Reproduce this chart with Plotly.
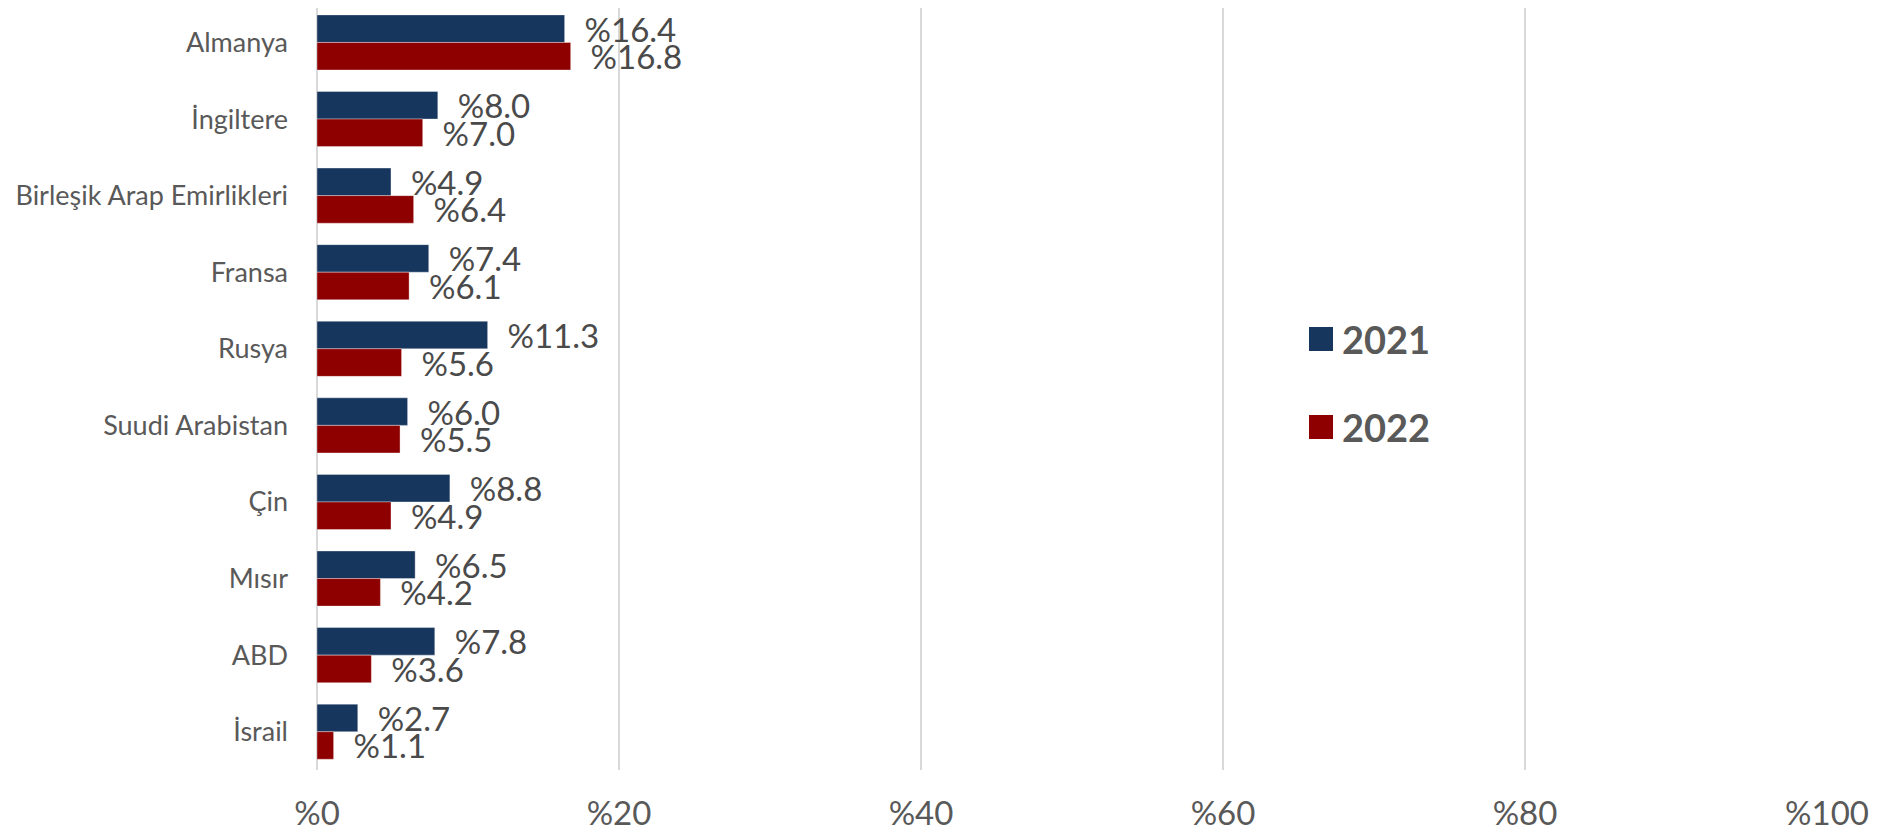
import plotly.graph_objects as go

categories = ["Almanya", "İngiltere", "Birleşik Arap Emirlikleri", "Fransa", "Rusya",
              "Suudi Arabistan", "Çin", "Mısır", "ABD", "İsrail"]
values_2021 = [16.4, 8.0, 4.9, 7.4, 11.3, 6.0, 8.8, 6.5, 7.8, 2.7]
values_2022 = [16.8, 7.0, 6.4, 6.1, 5.6, 5.5, 4.9, 4.2, 3.6, 1.1]
series_names = ["2021", "2022"]
tick_vals = [0, 20, 40, 60, 80, 100]
tick_text = ["%0", "%20", "%40", "%60", "%80", "%100"]

colors = ["#17365D", "#8E0000"]
FONT = "Lato, 'Open Sans', sans-serif"

# page body adds an 8px offset; compensate so the picture matches
OFF = 8
W, H = 1890 - OFF, 835 - OFF
PLOT_L, PLOT_R, PLOT_T, PLOT_B = 317, 1827, 4, 770   # target pixels in the picture
L = PLOT_L - OFF
R = W - (PLOT_R - OFF)
T = max(PLOT_T - OFF, 0)
B = H - (PLOT_B - OFF)

fig = go.Figure()
for name, vals, col in zip(series_names, [values_2021, values_2022], colors):
    fig.add_trace(go.Bar(
        y=categories, x=vals, orientation="h", name=name,
        marker=dict(color=col, line=dict(color="rgba(255,255,255,0.35)", width=1)),
        text=["\u00a0\u00a0%" + f"{v:.1f}" for v in vals],
        textposition="outside", constraintext="none", cliponaxis=False,
        textfont=dict(family=FONT, size=33, color="#4A4A4A"),
        showlegend=False,
    ))

fig.update_layout(
    width=W, height=H,
    margin=dict(l=L, r=R, t=T, b=B, pad=0),
    paper_bgcolor="white", plot_bgcolor="white",
    barmode="group", bargap=0.28, bargroupgap=0,
    font=dict(family=FONT, color="#595959"),
    xaxis=dict(range=[0, 100], tickvals=tick_vals, ticktext=tick_text,
               automargin=False,
               showgrid=True, gridcolor="#D9D9D9", gridwidth=1.5,
               zeroline=True, zerolinecolor="#D9D9D9", zerolinewidth=1.5,
               showline=False, ticks="", ticklabelstandoff=21,
               tickfont=dict(family=FONT, size=33, color="#595959")),
    yaxis=dict(categoryorder="array", categoryarray=categories,
               range=[9.5, -0.45],
               automargin=False,
               showgrid=False, showline=False, ticks="", ticklabelstandoff=28,
               tickfont=dict(family=FONT, size=27, color="#595959")),
)

# manual legend (large squares), positions given in picture pixels
pw, ph = W - L - R, H - T - B
def px_x(p):
    return (p - OFF - L) / pw
def px_y(p):
    return (H - B - (p - OFF)) / ph

legend_rows = [(327, 351, 339), (415, 439, 427)]
for name, col, (ytop, ybot, yc) in zip(series_names, colors, legend_rows):
    fig.add_shape(type="rect", xref="paper", yref="paper",
                  x0=px_x(1309), x1=px_x(1333), y0=px_y(ybot), y1=px_y(ytop),
                  fillcolor=col, line=dict(width=0))
    fig.add_annotation(xref="paper", yref="paper", x=px_x(1340), y=px_y(yc),
                       xanchor="left", yanchor="middle", showarrow=False,
                       text=f"<b>{name}</b>",
                       font=dict(family=FONT, size=38, color="#595959"))

fig.write_html("out.html")
